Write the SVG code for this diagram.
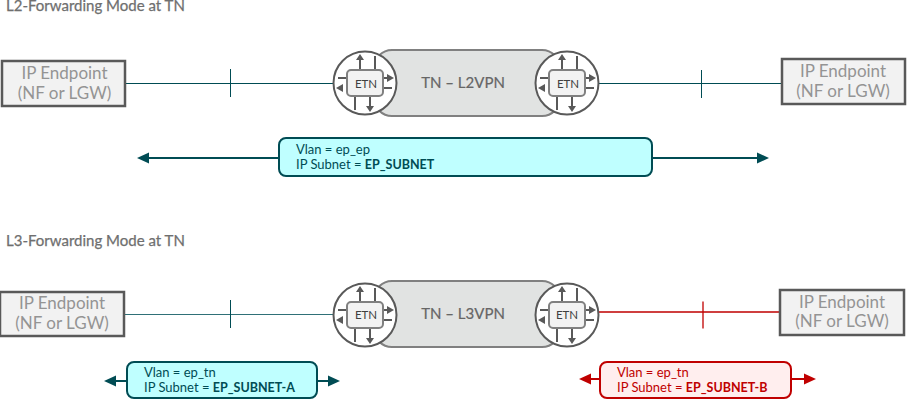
<svg xmlns="http://www.w3.org/2000/svg" width="908" height="400" viewBox="0 0 908 400">
<style>
text{font-family:Lato,"Liberation Sans",sans-serif}
.h{font-size:15px;fill:#6f6f6f;stroke:#6f6f6f;stroke-width:.25}
.ep{fill:#f2f2f2;stroke:#595959;stroke-width:2.5}
.ept{font-size:17px;fill:#949494;text-anchor:middle}
.pill{fill:#e1e3e2;stroke:#808080;stroke-width:2.2}
.pt{font-size:15px;fill:#666;stroke:#666;stroke-width:.2;text-anchor:middle}
.et{font-size:11.500px;fill:#404040;text-anchor:middle}
.teal{stroke:#004c54;fill:none}
.thin{stroke-width:1}
.rthin{stroke-width:1.300}
.bus{stroke-width:2}
.red{stroke:#c00000;fill:none}
.bt{fill:#bfffff;stroke:#004c54;stroke-width:2}
.br{fill:#ffeeee;stroke:#c00000;stroke-width:2}
.lt{font-size:13px;fill:#004c54}
.lr{font-size:13px;fill:#c00000}
.b{font-weight:700;font-size:12.500px}
</style>
<defs>
<marker id="at" markerWidth="12" markerHeight="12" refX="1" refY="6" orient="auto-start-reverse" markerUnits="userSpaceOnUse"><path d="M0 0.5L12 6L0 11.5Z" fill="#004c54"/></marker>
<marker id="ar" markerWidth="12" markerHeight="12" refX="1" refY="6" orient="auto-start-reverse" markerUnits="userSpaceOnUse"><path d="M0 0.5L12 6L0 11.5Z" fill="#c00000"/></marker>
<g id="router">
<circle r="31.500" fill="#fff" stroke="#595959" stroke-width="2"/>
<g stroke="#595959" stroke-width="2" fill="none">
<path d="M-5-13V-23M10-13V-27M-10 13V27M5 13V23M-18-5H-27M18-5H22M-27 5H-22M18 5H27"/>
</g>
<g fill="#595959">
<path d="M-5-29L-9-23H-1ZM5 29L1 23H9ZM29-5L22-9V-1ZM-29 5L-22 1V9Z"/>
</g>
<rect x="-18" y="-13" width="36" height="26" rx="4" fill="#f2f2f2" stroke="#808080" stroke-width="2"/>
</g>
</defs>
<text class="h" x="6" y="11">L2-Forwarding Mode at TN</text>
<text class="h" x="6" y="245.500">L3-Forwarding Mode at TN</text>
<g id="connectors">
<path class="teal thin" d="M125 83.500H335M230.500 69V97M598 83.500H782M701.500 70V98"/>
<path class="teal bus" d="M279 158H148" marker-end="url(#at)"/>
<path class="teal bus" d="M652 158H758" marker-end="url(#at)"/>
<path class="thin" stroke="#2f7077" fill="none" d="M125 314.500H335"/>
<path class="teal thin" d="M230.500 300V328"/>
<path class="red rthin" d="M598 312H780M703 301.500V328.500"/>
<path class="teal bus" d="M127 381H115" marker-end="url(#at)"/>
<path class="teal bus" d="M317 381H329" marker-end="url(#at)"/>
<path class="red bus" d="M600 379H590" marker-end="url(#ar)"/>
<path class="red bus" d="M791 379H805" marker-end="url(#ar)"/>
</g>
<g id="ep1"><rect class="ep" x="2" y="61" width="123" height="45"/><text class="ept" x="64.500" y="79">IP Endpoint</text><text class="ept" x="64.500" y="99">(NF or LGW)</text></g>
<g id="ep2"><rect class="ep" x="782" y="59" width="123" height="45"/><text class="ept" x="843" y="77">IP Endpoint</text><text class="ept" x="843" y="97">(NF or LGW)</text></g>
<g id="tn1"><rect class="pill" x="374" y="50" width="186" height="66" rx="18"/><text class="pt" x="463" y="88">TN – L2VPN</text></g>
<g id="etn1"><use href="#router" x="365" y="83"/><text class="et" x="366" y="87.500">ETN</text></g>
<g id="etn2"><use href="#router" x="567" y="83"/><text class="et" x="568" y="87.500">ETN</text></g>
<g id="lbl1"><rect class="bt" x="279" y="138" width="373" height="38" rx="7"/><text class="lt" x="296" y="154">Vlan = ep_ep</text><text class="lt" x="296" y="169">IP Subnet = <tspan class="b">EP_SUBNET</tspan></text></g>
<g id="ep3"><rect class="ep" x="0" y="292" width="124" height="44"/><text class="ept" x="62" y="309">IP Endpoint</text><text class="ept" x="62" y="329">(NF or LGW)</text></g>
<g id="ep4"><rect class="ep" x="780" y="290" width="124" height="45"/><text class="ept" x="842" y="308">IP Endpoint</text><text class="ept" x="842" y="327">(NF or LGW)</text></g>
<g id="tn2"><rect class="pill" x="374" y="281" width="186" height="66" rx="18"/><text class="pt" x="463" y="319">TN – L3VPN</text></g>
<g id="etn3"><use href="#router" x="365" y="315"/><text class="et" x="366" y="319">ETN</text></g>
<g id="etn4"><use href="#router" x="567" y="315"/><text class="et" x="567" y="319">ETN</text></g>
<g id="lbl2"><rect class="bt" x="127" y="362" width="190" height="36" rx="7"/><text class="lt" x="144" y="377">Vlan = ep_tn</text><text class="lt" x="144" y="392">IP Subnet = <tspan class="b">EP_SUBNET-A</tspan></text></g>
<g id="lbl3"><rect class="br" x="600" y="362" width="191" height="36" rx="7"/><text class="lr" x="617" y="377">Vlan = ep_tn</text><text class="lr" x="617" y="392">IP Subnet = <tspan class="b">EP_SUBNET-B</tspan></text></g>
</svg>
